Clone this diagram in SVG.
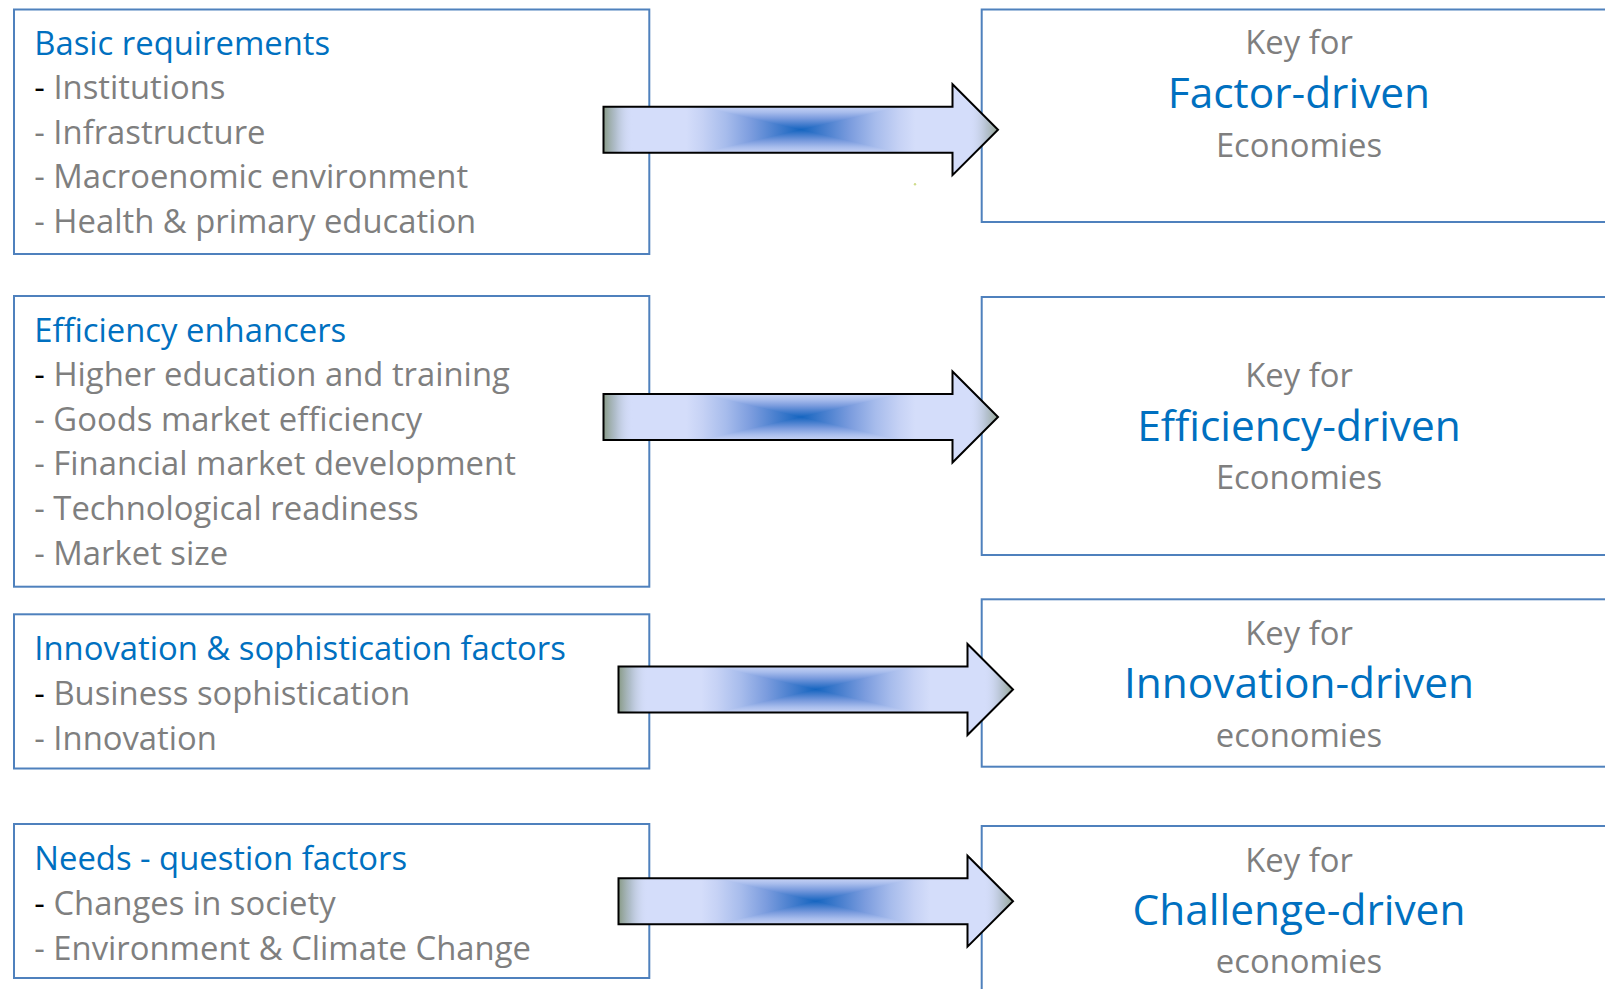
<svg xmlns="http://www.w3.org/2000/svg" xmlns:xlink="http://www.w3.org/1999/xlink" width="1605" height="989" viewBox="0 0 1605 989">
  <style>
    .box { fill: #ffffff; stroke: #4f81bd; stroke-width: 2; }
    .t { font-family: "Open Sans", "Noto Sans", "Liberation Sans", sans-serif; }
    .head { font-size: 32.8px; fill: #0070c0; }
    .item { font-size: 32.8px; fill: #7f7f7f; }
    .dash0 { fill: #000000; }
    .key { font-size: 32.8px; fill: #7f7f7f; text-anchor: middle; }
    .big { font-size: 42.4px; fill: #0070c0; text-anchor: middle; }
    .outline { fill: none; stroke: #000000; stroke-width: 2; stroke-linejoin: miter; }
  </style>
  <defs>
    <!-- block arrow, local origin at the left end of the shaft, centre line y=0 -->
    <path id="arrowShape" d="M0,-23 H349 V-45.5 L394.5,0 L349,45.5 V23 H0 Z"/>
    <clipPath id="arrowClip">
      <use xlink:href="#arrowShape" href="#arrowShape"/>
    </clipPath>
    <!-- rectangular "path" shading toward the centre point (197.25, 0) -->
    <linearGradient id="pgL" gradientUnits="userSpaceOnUse" x1="0" y1="0" x2="197.25" y2="0">
      <stop offset="0" stop-color="#d4ddfa"/>
      <stop offset="0.42" stop-color="#d4ddfa"/>
      <stop offset="0.5" stop-color="#c6d2f5"/>
      <stop offset="0.62" stop-color="#a7bcec"/>
      <stop offset="0.75" stop-color="#7b9cde"/>
      <stop offset="0.87" stop-color="#4a80cf"/>
      <stop offset="1" stop-color="#1565c0"/>
    </linearGradient>
    <linearGradient id="pgR" xlink:href="#pgL" href="#pgL" gradientUnits="userSpaceOnUse" x1="394.5" y1="0" x2="197.25" y2="0"/>
    <linearGradient id="pgT" xlink:href="#pgL" href="#pgL" gradientUnits="userSpaceOnUse" x1="0" y1="-45.5" x2="0" y2="0"/>
    <linearGradient id="pgB" xlink:href="#pgL" href="#pgL" gradientUnits="userSpaceOnUse" x1="0" y1="45.5" x2="0" y2="0"/>
    <!-- grey shading at the tail and the tip -->
    <linearGradient id="edge" gradientUnits="userSpaceOnUse" x1="0" y1="0" x2="394.5" y2="0">
      <stop offset="0" stop-color="#889a86" stop-opacity="1"/>
      <stop offset="0.03" stop-color="#a7b6bf" stop-opacity="0.8"/>
      <stop offset="0.075" stop-color="#d4ddfa" stop-opacity="0"/>
      <stop offset="0.925" stop-color="#d4ddfa" stop-opacity="0"/>
      <stop offset="0.97" stop-color="#aebbc6" stop-opacity="0.8"/>
      <stop offset="1" stop-color="#94a595" stop-opacity="1"/>
    </linearGradient>
    <g id="blockArrow">
      <g clip-path="url(#arrowClip)">
        <rect x="0" y="-46" width="197.5" height="92" fill="url(#pgL)"/>
        <rect x="197" y="-46" width="198" height="92" fill="url(#pgR)"/>
        <polygon points="197.25,0 0,-45.5 394.5,-45.5" fill="url(#pgT)"/>
        <polygon points="197.25,0 0,45.5 394.5,45.5" fill="url(#pgB)"/>
        <rect x="0" y="-46" width="395" height="92" fill="url(#edge)"/>
      </g>
      <use xlink:href="#arrowShape" href="#arrowShape" class="outline"/>
    </g>
  </defs>

  <rect width="1605" height="989" fill="#ffffff"/>

  <!-- left column: pillar groups -->
  <g id="basic-requirements">
    <rect class="box" x="14" y="9.5" width="635.3" height="244.5"/>
    <text class="t head" x="34.3" y="55">Basic requirements</text>
    <text class="t item" x="34.3" y="99.3"><tspan class="dash0">-</tspan> Institutions</text>
    <text class="t item" x="34.3" y="143.7">- Infrastructure</text>
    <text class="t item" x="34.3" y="188.2">- Macroenomic environment</text>
    <text class="t item" x="34.3" y="232.6">- Health &amp; primary education</text>
  </g>

  <g id="efficiency-enhancers">
    <rect class="box" x="14" y="296" width="635.3" height="290.7"/>
    <text class="t head" x="34.3" y="341.7">Efficiency enhancers</text>
    <text class="t item" x="34.3" y="386.4"><tspan class="dash0">-</tspan> Higher education and training</text>
    <text class="t item" x="34.3" y="430.6">- Goods market efficiency</text>
    <text class="t item" x="34.3" y="475.2">- Financial market development</text>
    <text class="t item" x="34.3" y="520">- Technological readiness</text>
    <text class="t item" x="34.3" y="564.8">- Market size</text>
  </g>

  <g id="innovation-factors">
    <rect class="box" x="14" y="614.3" width="635.3" height="154.2"/>
    <text class="t head" x="34.3" y="660">Innovation &amp; sophistication factors</text>
    <text class="t item" x="34.3" y="705"><tspan class="dash0">-</tspan> Business sophistication</text>
    <text class="t item" x="34.3" y="749.8">- Innovation</text>
  </g>

  <g id="needs-factors">
    <rect class="box" x="14" y="824" width="635.3" height="154"/>
    <text class="t head" x="34.3" y="870">Needs - question factors</text>
    <text class="t item" x="34.3" y="915"><tspan class="dash0">-</tspan> Changes in society</text>
    <text class="t item" x="34.3" y="960">- Environment &amp; Climate Change</text>
  </g>

  <!-- right column: economy stages -->
  <g id="factor-driven">
    <rect class="box" x="981.7" y="9.5" width="640" height="212.5"/>
    <text class="t key" x="1299" y="54.3">Key for</text>
    <text class="t big" x="1299" y="108.3">Factor-driven</text>
    <text class="t key" x="1299" y="156.7">Economies</text>
  </g>

  <g id="efficiency-driven">
    <rect class="box" x="981.7" y="297" width="640" height="258"/>
    <text class="t key" x="1299" y="386.8">Key for</text>
    <text class="t big" x="1299" y="440.6">Efficiency-driven</text>
    <text class="t key" x="1299" y="488.5">Economies</text>
  </g>

  <g id="innovation-driven">
    <rect class="box" x="981.7" y="599.3" width="640" height="167.4"/>
    <text class="t key" x="1299" y="645">Key for</text>
    <text class="t big" x="1299" y="698.3">Innovation-driven</text>
    <text class="t key" x="1299" y="746.7">economies</text>
  </g>

  <g id="challenge-driven">
    <rect class="box" x="981.7" y="826" width="640" height="200"/>
    <text class="t key" x="1299" y="871.7">Key for</text>
    <text class="t big" x="1299" y="925">Challenge-driven</text>
    <text class="t key" x="1299" y="973.3">economies</text>
  </g>

  <!-- connectors -->
  <g id="connectors">
    <use xlink:href="#blockArrow" href="#blockArrow" transform="translate(603.5,129.7)"/>
    <use xlink:href="#blockArrow" href="#blockArrow" transform="translate(603.5,417)"/>
    <use xlink:href="#blockArrow" href="#blockArrow" transform="translate(618.5,689.5)"/>
    <use xlink:href="#blockArrow" href="#blockArrow" transform="translate(618.5,901.2)"/>
  </g>

  <!-- small speck below the first arrow head -->
  <circle cx="915" cy="184.3" r="1.2" fill="#cfdc8c"/>
</svg>
